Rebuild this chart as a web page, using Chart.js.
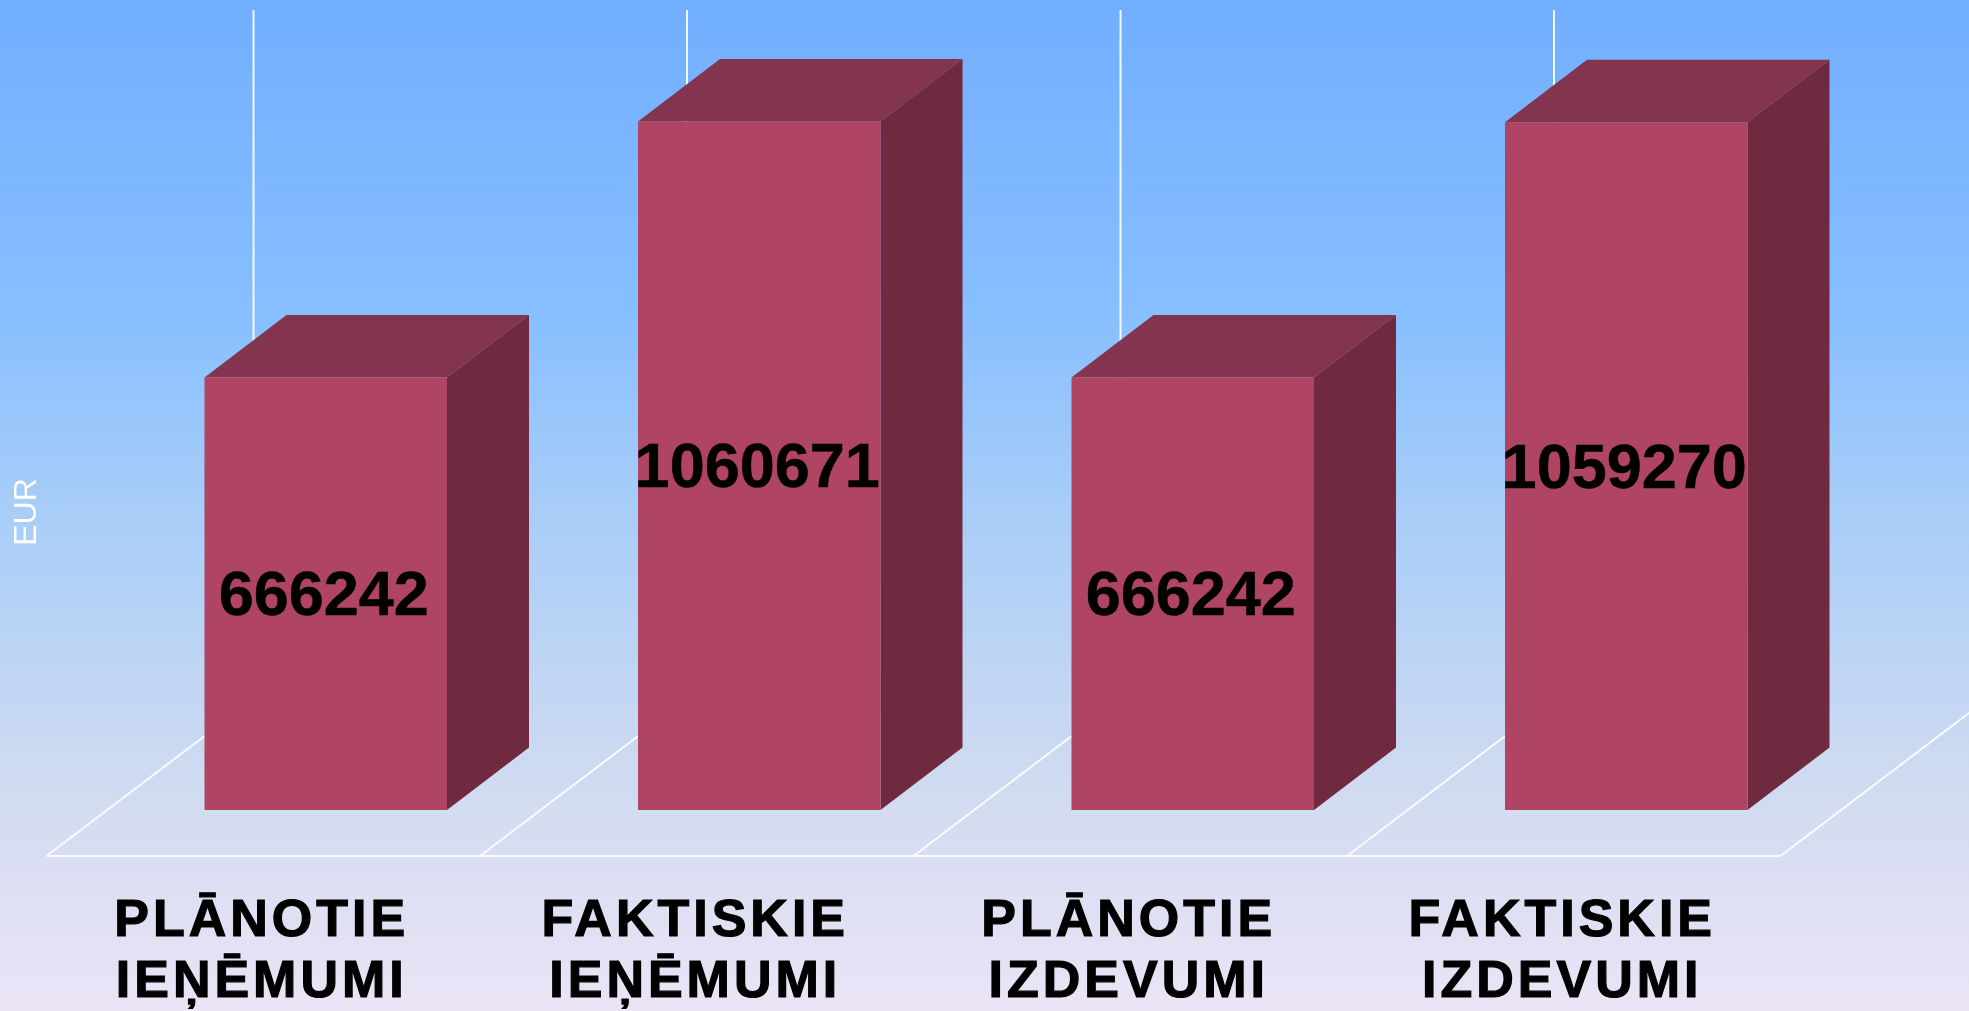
<!DOCTYPE html>
<html>
<head>
<meta charset="utf-8">
<style>html,body{margin:0;padding:0;background:#fff}#wrap{width:1969px;height:1011px;position:relative}</style>
<script src="https://cdn.jsdelivr.net/npm/chart.js@4"></script>
</head>
<body>
<div id="wrap"><canvas id="c" width="1969" height="1011"></canvas></div>
<script>
const categories = [["PLĀNOTIE","IEŅĒMUMI"],["FAKTISKIE","IEŅĒMUMI"],["PLĀNOTIE","IZDEVUMI"],["FAKTISKIE","IZDEVUMI"]];
const values = [666242, 1060671, 666242, 1059270];
const axisTitle = "EUR";
const FONT = '"Liberation Sans", Arial, sans-serif';

const scene = {
  id: 'scene',
  beforeDraw(chart) {
    const { ctx, width, height } = chart;
    const g = ctx.createLinearGradient(0, 0, 0, height);
    g.addColorStop(0, '#72AEFF');
    g.addColorStop(0.3, '#86BEFF');
    g.addColorStop(0.5, '#A7CDF8');
    g.addColorStop(0.8, '#D3DCF0');
    g.addColorStop(1, '#EBE4F6');
    ctx.save();
    ctx.fillStyle = g;
    ctx.fillRect(0, 0, width, height);
    ctx.restore();
    ctx.letterSpacing = '4px';
  },
  beforeDatasetsDraw(chart) {
    const { ctx, scales: { x, y } } = chart;
    ctx.letterSpacing = '0px';
    const band = x.getPixelForTick(1) - x.getPixelForTick(0);
    const front = i => x.getPixelForTick(0) - band / 2 - 62.5 + i * band;
    const floorY = y.bottom + 46;
    const dx = 207, dy = 157;
    ctx.save();
    ctx.strokeStyle = 'rgba(255,255,255,0.9)';
    ctx.lineWidth = 2;
    ctx.beginPath();
    ctx.moveTo(front(0), floorY);
    ctx.lineTo(front(values.length), floorY);
    for (let i = 0; i <= values.length; i++) {
      ctx.moveTo(front(i), floorY);
      ctx.lineTo(front(i) + dx, floorY - dy);
      ctx.lineTo(front(i) + dx, y.top - 21);
    }
    ctx.stroke();
    const bdx = 82, bdy = 62.5;
    chart.getDatasetMeta(0).data.forEach(b => {
      const l = b.x - b.width / 2, r = b.x + b.width / 2, t = b.y, base = b.base;
      ctx.fillStyle = '#83344E';
      ctx.beginPath();
      ctx.moveTo(l, t); ctx.lineTo(l + bdx, t - bdy); ctx.lineTo(r + bdx, t - bdy); ctx.lineTo(r, t);
      ctx.closePath(); ctx.fill();
      ctx.fillStyle = '#702A3F';
      ctx.beginPath();
      ctx.moveTo(r, t); ctx.lineTo(r + bdx, t - bdy); ctx.lineTo(r + bdx, base - bdy); ctx.lineTo(r, base);
      ctx.closePath(); ctx.fill();
    });
    ctx.restore();
  },
  afterDatasetsDraw(chart) {
    const { ctx } = chart;
    ctx.save();
    ctx.fillStyle = '#000';
    ctx.strokeStyle = '#000';
    ctx.lineWidth = 0.5;
    ctx.lineJoin = 'round';
    ctx.font = 'bold 63px ' + FONT;
    ctx.textAlign = 'center';
    ctx.textBaseline = 'middle';
    chart.getDatasetMeta(0).data.forEach((b, i) => {
      ctx.fillText(String(values[i]), b.x - 2, (b.y + b.base) / 2 + 4);
      ctx.strokeText(String(values[i]), b.x - 2, (b.y + b.base) / 2 + 4);
    });
    ctx.translate(27, 512);
    ctx.rotate(-Math.PI / 2);
    ctx.fillStyle = '#fff';
    ctx.font = '32px ' + FONT;
    ctx.fillText(axisTitle, 0, 0);
    ctx.restore();
  }
};

new Chart(document.getElementById('c'), {
  type: 'bar',
  data: {
    labels: categories,
    datasets: [{
      data: values,
      backgroundColor: '#AF4463',
      borderWidth: 0,
      barPercentage: 0.5594,
      categoryPercentage: 1
    }]
  },
  options: {
    responsive: false,
    animation: false,
    layout: { padding: { left: 109, right: 126, top: 31, bottom: 0 } },
    plugins: { legend: { display: false }, tooltip: { enabled: false }, title: { display: false } },
    scales: {
      x: {
        grid: { display: false, drawTicks: false },
        border: { display: false },
        afterFit: s => { s.height = 201; },
        ticks: {
          color: '#000',
          padding: 80.5,
          maxRotation: 0,
          autoSkip: false,
          labelOffset: -64,
          textStrokeColor: '#000',
          textStrokeWidth: 1.2,
          font: { family: FONT, size: 52, weight: 'bold', lineHeight: 1.184 }
        }
      },
      y: { display: false, min: 0, max: 1200000 }
    }
  },
  plugins: [scene]
});
</script>
</body>
</html>
